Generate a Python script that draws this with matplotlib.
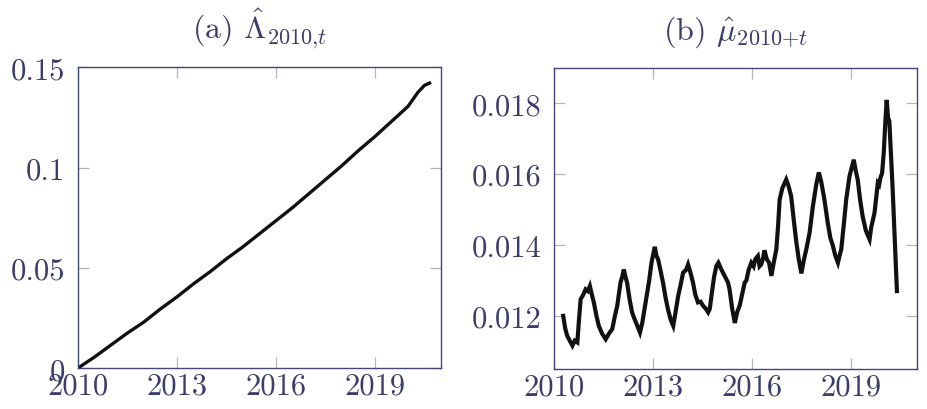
#!/usr/bin/env python3
"""
Two-panel figure: (a) the cumulative hazard estimate from 2010 and
(b) the estimated mortality intensity over calendar time.

Writes out.png.
"""

import matplotlib
matplotlib.use("Agg")
import matplotlib.pyplot as plt

# --- Data ---------------------------------------------------------------------
# (a) cumulative hazard, read at roughly half-year steps
LAMBDA_YEARS = [2010.0, 2010.5, 2011.0, 2011.5, 2012.0, 2012.5, 2013.0, 2013.5,
                2014.0, 2014.5, 2015.0, 2015.5, 2016.0, 2016.5, 2017.0, 2017.5,
                2018.0, 2018.5, 2019.0, 2019.5, 2020.0, 2020.3, 2020.5, 2020.7]
LAMBDA_VALUES = [0.0000, 0.0055, 0.0115, 0.0175, 0.0230, 0.0295, 0.0355, 0.0420,
                 0.0480, 0.0545, 0.0605, 0.0670, 0.0735, 0.0800, 0.0870, 0.0940,
                 0.1010, 0.1085, 0.1155, 0.1230, 0.1305, 0.1375, 0.1410, 0.1425]

# (b) intensity estimate
MU_YEARS = [
    2010.27, 2010.33, 2010.39, 2010.47, 2010.55, 2010.62, 2010.70, 2010.75,
    2010.80, 2010.88, 2010.95, 2011.02, 2011.08, 2011.14, 2011.20, 2011.28,
    2011.35, 2011.45, 2011.56, 2011.66, 2011.76, 2011.84, 2011.91, 2012.01,
    2012.06, 2012.11, 2012.16, 2012.21, 2012.28, 2012.36, 2012.44, 2012.52,
    2012.60, 2012.67, 2012.74, 2012.80, 2012.88, 2012.95, 2013.05, 2013.10,
    2013.15, 2013.22, 2013.30, 2013.38, 2013.45, 2013.53, 2013.61, 2013.68,
    2013.76, 2013.84, 2013.91, 2014.00, 2014.06, 2014.14, 2014.21, 2014.28,
    2014.36, 2014.44, 2014.52, 2014.60, 2014.67, 2014.72, 2014.77, 2014.85,
    2014.92, 2014.98, 2015.07, 2015.17, 2015.27, 2015.32, 2015.40, 2015.48,
    2015.55, 2015.63, 2015.70, 2015.78, 2015.83, 2015.90, 2015.98, 2016.05,
    2016.10, 2016.18, 2016.23, 2016.28, 2016.33, 2016.38, 2016.45, 2016.52,
    2016.59, 2016.66, 2016.74, 2016.79, 2016.84, 2016.92, 2016.99, 2017.04,
    2017.10, 2017.19, 2017.27, 2017.35, 2017.42, 2017.50, 2017.58, 2017.65,
    2017.75, 2017.85, 2017.95, 2018.03, 2018.10, 2018.20, 2018.30, 2018.38,
    2018.45, 2018.53, 2018.61, 2018.66, 2018.71, 2018.78, 2018.86, 2018.96,
    2019.03, 2019.09, 2019.15, 2019.21, 2019.28, 2019.36, 2019.46, 2019.57,
    2019.62, 2019.72, 2019.82, 2019.86, 2019.90, 2019.95, 2020.00, 2020.05,
    2020.09, 2020.13, 2020.17, 2020.27, 2020.35, 2020.40,
]
MU_VALUES = [
    0.01200, 0.01165, 0.01144, 0.01130, 0.01116, 0.01130, 0.01125, 0.01190,
    0.01247, 0.01260, 0.01275, 0.01270, 0.01284, 0.01260, 0.01238, 0.01200,
    0.01172, 0.01150, 0.01134, 0.01150, 0.01163, 0.01200, 0.01228, 0.01294,
    0.01310, 0.01331, 0.01310, 0.01294, 0.01250, 0.01210, 0.01190, 0.01172,
    0.01153, 0.01180, 0.01220, 0.01256, 0.01300, 0.01350, 0.01395, 0.01370,
    0.01360, 0.01330, 0.01294, 0.01250, 0.01219, 0.01190, 0.01172, 0.01210,
    0.01256, 0.01290, 0.01322, 0.01330, 0.01345, 0.01320, 0.01294, 0.01260,
    0.01238, 0.01240, 0.01228, 0.01220, 0.01210, 0.01220, 0.01256, 0.01310,
    0.01341, 0.01350, 0.01331, 0.01313, 0.01295, 0.01275, 0.01220, 0.01180,
    0.01210, 0.01230, 0.01260, 0.01294, 0.01300, 0.01330, 0.01350, 0.01340,
    0.01360, 0.01369, 0.01340, 0.01345, 0.01360, 0.01385, 0.01360, 0.01350,
    0.01313, 0.01350, 0.01388, 0.01450, 0.01528, 0.01560, 0.01575, 0.01585,
    0.01570, 0.01538, 0.01470, 0.01406, 0.01360, 0.01320, 0.01360, 0.01388,
    0.01435, 0.01510, 0.01570, 0.01605, 0.01580, 0.01528, 0.01463, 0.01420,
    0.01400, 0.01370, 0.01350, 0.01370, 0.01388, 0.01450, 0.01528, 0.01594,
    0.01620, 0.01641, 0.01610, 0.01585, 0.01530, 0.01481, 0.01440, 0.01416,
    0.01450, 0.01491, 0.01575, 0.01570, 0.01590, 0.01603, 0.01660, 0.01750,
    0.01810, 0.01760, 0.01750, 0.01560, 0.01380, 0.01270,
]

YEAR_TICKS = [2010, 2013, 2016, 2019]
LAMBDA_TICKS = [0, 0.05, 0.1, 0.15]
LAMBDA_TICKLABELS = ["0", "0.05", "0.1", "0.15"]
MU_TICKS = [0.012, 0.014, 0.016, 0.018]
MU_TICKLABELS = ["0.012", "0.014", "0.016", "0.018"]

TITLE_A = r"(a) $\hat{\Lambda}_{2010{,}t}$"
TITLE_B = r"(b) $\hat{\mu}_{2010{+}t}$"

# --- Style --------------------------------------------------------------------
FRAME = "#45457a"
TEXT = "#3d3d6b"
TICK = "#b5b5b5"

plt.rcParams.update({
    "font.family": "cmr10",
    "mathtext.fontset": "cm",
    "axes.formatter.use_mathtext": True,
    "font.size": 22,
})


def style_axes(ax, yticks, yticklabels, ylim):
    ax.set_xlim(2010, 2021)
    ax.set_ylim(*ylim)
    ax.set_xticks(YEAR_TICKS)
    ax.set_xticklabels([str(y) for y in YEAR_TICKS])
    ax.set_yticks(yticks)
    ax.set_yticklabels(yticklabels)
    ax.tick_params(direction="in", length=8, width=0.9, color=TICK,
                   top=True, right=True, labelcolor=TEXT, labelsize=22)
    ax.tick_params(axis="x", pad=3)
    ax.tick_params(axis="y", pad=9)
    for sp in ax.spines.values():
        sp.set_color(FRAME)
        sp.set_linewidth(1.0)


def main():
    fig = plt.figure(figsize=(9.28, 4.10), dpi=100)
    ax_a = fig.add_axes([0.0837, 0.0993, 0.3915, 0.7341])
    ax_b = fig.add_axes([0.5973, 0.0976, 0.3905, 0.7341])

    ax_a.plot(LAMBDA_YEARS, LAMBDA_VALUES, color="#111111", lw=2.4,
              solid_capstyle="butt")
    style_axes(ax_a, LAMBDA_TICKS, LAMBDA_TICKLABELS, (0, 0.15))
    ax_a.set_title(TITLE_A, color=TEXT, fontsize=23, pad=21)

    ax_b.plot(MU_YEARS, MU_VALUES, color="#111111", lw=3.0,
              solid_joinstyle="miter")
    style_axes(ax_b, MU_TICKS, MU_TICKLABELS, (0.0105, 0.019))
    ax_b.set_title(TITLE_B, color=TEXT, fontsize=23, pad=21)

    fig.savefig("out.png", dpi=100)


if __name__ == "__main__":
    main()
